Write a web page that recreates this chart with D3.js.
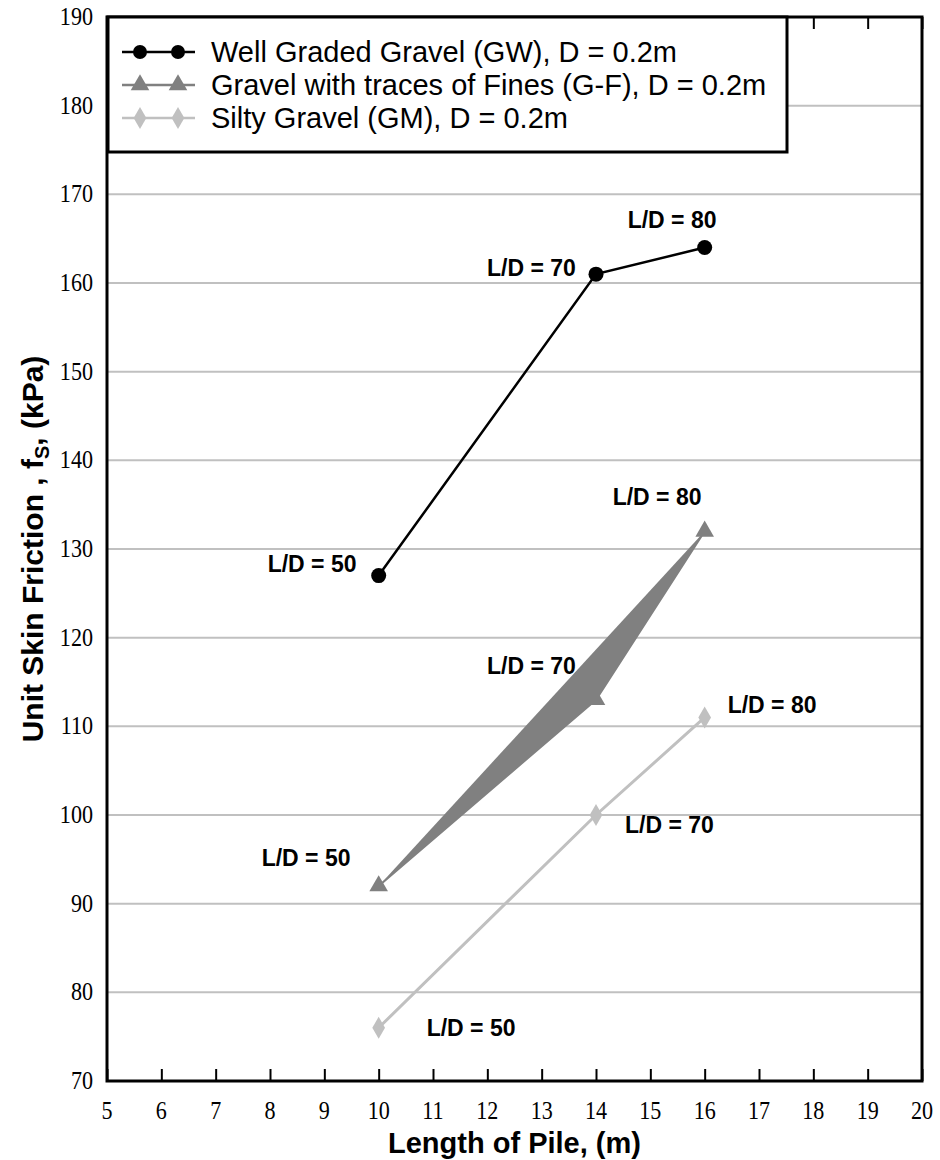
<!DOCTYPE html>
<html><head><meta charset="utf-8">
<script src="https://cdnjs.cloudflare.com/ajax/libs/d3/7.8.5/d3.min.js"></script>
<style>body{margin:0;background:#fff;} svg{display:block;} .serif{font-family:"Liberation Serif","DejaVu Serif",serif;}</style>
</head><body>
<svg id="c" width="940" height="1160"></svg>
<script>
const pileLength = [10, 14, 16];
const gwValues = [127, 161, 164];
const gfValues = [92, 113, 132];
const gmValues = [76, 100, 111];
const ratioLabels = ["L/D = 50", "L/D = 70", "L/D = 80"];
const seriesNames = [
  "Well Graded Gravel (GW), D = 0.2m",
  "Gravel with traces of Fines (G-F), D = 0.2m",
  "Silty Gravel (GM), D = 0.2m"
];
const xTicks = [5,6,7,8,9,10,11,12,13,14,15,16,17,18,19,20];
const yTicks = [70,80,90,100,110,120,130,140,150,160,170,180,190];

// layout (label offsets relative to their point: [dx, dy])
const labelOffsets = [
  [[-111,-4],[-109,2],[-77,-20]],
  [[-117,-20],[-109,-26],[-92,-26]],
  [[48,8],[29,18],[23,-4]]
];
const L = 107, R = 922, T = 17, B = 1081;
const sans = "'Liberation Sans', Arial, sans-serif";
const svg = d3.select("#c");
const x = d3.scaleLinear().domain([5,20]).range([L,R]);
const y = d3.scaleLinear().domain([70,190]).range([B,T]);

// gridlines
svg.append("g").selectAll("line").data(yTicks.filter(v=>v>70 && v<190)).join("line")
  .attr("x1",L).attr("x2",R).attr("y1",d=>y(d)).attr("y2",d=>y(d))
  .attr("stroke","#c0c0c0").attr("stroke-width",2);

// axes with inner ticks
const xAxisB = d3.axisBottom(x).tickValues(xTicks).tickSize(-12).tickFormat("");
const gB = svg.append("g").attr("transform",`translate(0,${B})`).call(xAxisB);
gB.select(".domain").remove();
gB.selectAll(".tick line").attr("stroke","#000").attr("stroke-width",2);
const xAxisT = d3.axisTop(x).tickValues(xTicks).tickSize(-12).tickFormat("");
const gT = svg.append("g").attr("transform",`translate(0,${T})`).call(xAxisT);
gT.select(".domain").remove();
gT.selectAll(".tick line").attr("stroke","#000").attr("stroke-width",2);

// tick labels (slightly condensed serif)
svg.append("g").selectAll("text").data(xTicks).join("text")
  .attr("class","serif")
  .attr("transform",d=>`translate(${x(d)},${B+38}) scale(0.85,1)`).attr("text-anchor","middle")
  .style("font-size","26px")
  .text(d=>d);
svg.append("g").selectAll("text").data(yTicks).join("text")
  .attr("class","serif")
  .attr("transform",d=>`translate(${L-14},${y(d)+8}) scale(0.85,1)`).attr("text-anchor","end")
  .style("font-size","26px")
  .text(d=>d);

// series
const pts = vals => pileLength.map((p,i)=>[x(p), y(vals[i])]);
const line = d3.line();
svg.append("path").attr("d", line(pts(gfValues)))
  .attr("fill","#808080").attr("stroke","#808080").attr("stroke-width",2);
svg.append("path").attr("d", line(pts(gmValues)))
  .attr("fill","none").attr("stroke","#c0c0c0").attr("stroke-width",3);
svg.append("path").attr("d", line(pts(gwValues)))
  .attr("fill","none").attr("stroke","#000").attr("stroke-width",2.5);

const tri = d3.symbol().type(d3.symbolTriangle).size(150);
const dia = d3.symbol().type(d3.symbolDiamond).size(140);
svg.append("g").selectAll("path").data(pts(gfValues)).join("path")
  .attr("d",tri()).attr("transform",d=>`translate(${d[0]},${d[1]})`).attr("fill","#808080");
svg.append("g").selectAll("path").data(pts(gmValues)).join("path")
  .attr("d",dia()).attr("transform",d=>`translate(${d[0]},${d[1]})`).attr("fill","#c0c0c0");
svg.append("g").selectAll("circle").data(pts(gwValues)).join("circle")
  .attr("cx",d=>d[0]).attr("cy",d=>d[1]).attr("r",7.5).attr("fill","#000");

// point labels
[gwValues, gfValues, gmValues].forEach((vals, s) => {
  svg.append("g").selectAll("text").data(pts(vals)).join("text")
    .attr("x",(d,i)=>d[0]+labelOffsets[s][i][0]).attr("y",(d,i)=>d[1]+labelOffsets[s][i][1])
    .attr("font-family",sans).attr("font-weight","bold")
    .attr("font-size",23).text((d,i)=>ratioLabels[i]);
});

// plot border
svg.append("rect").attr("x",L).attr("y",T).attr("width",R-L).attr("height",B-T)
  .attr("fill","none").attr("stroke","#000").attr("stroke-width",3);

// legend
const lg = svg.append("g");
lg.append("rect").attr("x",L+1).attr("y",T).attr("width",679).attr("height",135)
  .attr("fill","#fff").attr("stroke","#000").attr("stroke-width",3);
const rowY = [52, 85, 118];
const legendStyles = [
  {stroke:"#000", sym:"circle"},
  {stroke:"#808080", sym:"tri"},
  {stroke:"#c0c0c0", sym:"dia"}
];
seriesNames.forEach((name,i)=>{
  const st = legendStyles[i];
  lg.append("line").attr("x1",122).attr("x2",195).attr("y1",rowY[i]).attr("y2",rowY[i])
    .attr("stroke",st.stroke).attr("stroke-width",2.5);
  [140,178].forEach(mx=>{
    if (st.sym==="circle") lg.append("circle").attr("cx",mx).attr("cy",rowY[i]).attr("r",7).attr("fill",st.stroke);
    else lg.append("path").attr("d",(st.sym==="tri"?tri:dia)()).attr("transform",`translate(${mx},${rowY[i]})`).attr("fill",st.stroke);
  });
  lg.append("text").attr("x",211).attr("y",rowY[i]+10)
    .attr("font-family",sans).attr("font-size",29).text(name);
});

// axis titles
svg.append("text").attr("x",(L+R)/2).attr("y",1153).attr("text-anchor","middle")
  .attr("font-family",sans).attr("font-weight","bold").attr("font-size",29)
  .text("Length of Pile, (m)");
const yt = svg.append("text").attr("transform",`translate(43,${(T+B)/2}) rotate(-90)`).attr("text-anchor","middle")
  .attr("font-family",sans).attr("font-weight","bold").attr("font-size",30);
yt.append("tspan").text("Unit Skin Friction , f");
yt.append("tspan").attr("font-size",20).attr("dy",6).text("S");
yt.append("tspan").attr("dy",-6).text(", (kPa)");
</script>
</body></html>
